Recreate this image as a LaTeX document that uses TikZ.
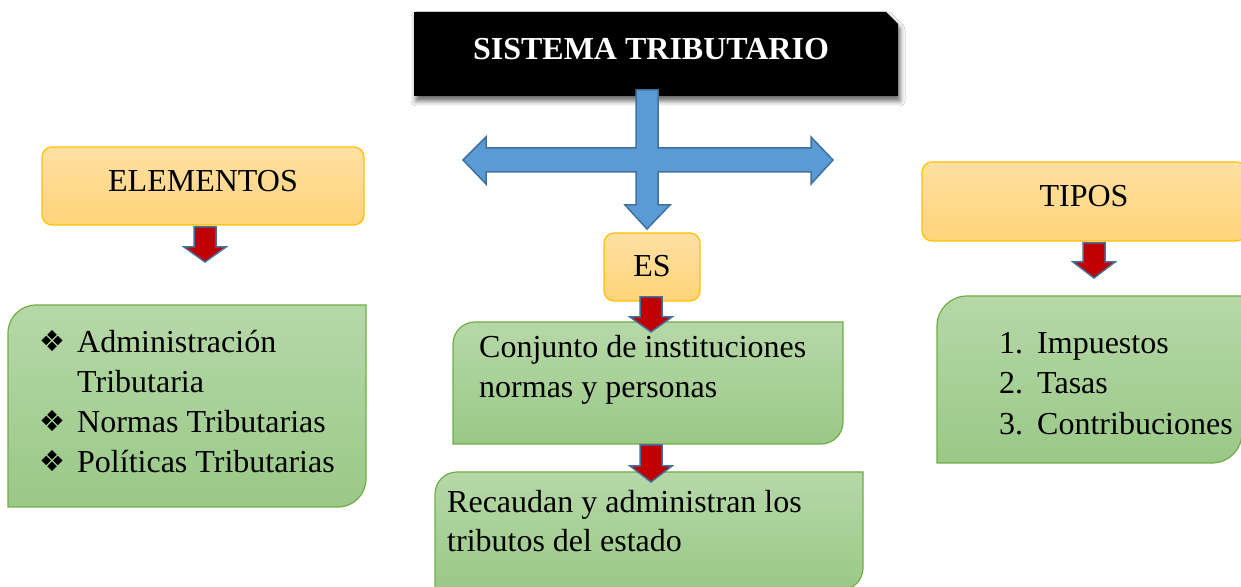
\documentclass[tikz,border=0pt]{standalone}
\usepackage{fontspec}
\setmainfont{Liberation Serif}
\newfontfamily\dejavu{DejaVu Sans}
\usetikzlibrary{shadows.blur}
\definecolor{orfillT}{HTML}{FFE0A3}
\definecolor{orfillB}{HTML}{FFD479}
\definecolor{orline}{HTML}{FFC000}
\definecolor{grT}{HTML}{B6D8A8}
\definecolor{grB}{HTML}{9AC887}
\definecolor{grline}{HTML}{70AD47}
\definecolor{bluefill}{HTML}{5B9BD5}
\definecolor{blueline}{HTML}{41719C}
\definecolor{redfill}{HTML}{C00000}
\tikzset{
  orangebox/.style={draw=orline, line width=1.2pt, top color=orfillT, bottom color=orfillB, rounded corners=10pt},
  greenbox/.style={draw=grline, line width=1.2pt, top color=grT, bottom color=grB},
  txt/.style={font=\fontsize{32}{40}\selectfont, inner sep=0pt, anchor=base west},
  ctxt/.style={font=\fontsize{32}{40}\selectfont, inner sep=0pt, anchor=base},
  bul/.style={font=\dejavu\fontsize{29}{32}\selectfont, inner sep=0pt, anchor=base west},
  bigarrow/.style={draw=blueline, line width=1.5pt, fill=bluefill, line join=miter},
  redarrow/.style={draw=blueline, line width=1.5pt, fill=redfill, line join=miter},
}
\newcommand{\gbox}[5]{% x1 Ytop x2 Ybot r
  \path[greenbox] (#1,#4) -- (#1,#2-#5) arc[start angle=180,end angle=90,radius=#5] -- (#3,#2) -- (#3,#4+#5) arc[start angle=0,end angle=-90,radius=#5] -- cycle;}
\newcommand{\rarrow}[5]{% name x Ytop Ybase Ytip
  \coordinate (#1) at (#2,#3);
  \path[redarrow] (#2-11,#3) -- (#2+11,#3) -- (#2+11,#4) -- (#2+21,#4) -- (#2,#5) -- (#2-21,#4) -- (#2-11,#4) -- cycle;}
\begin{document}
\begin{tikzpicture}[x=1pt,y=1pt]
\useasboundingbox[fill=white] (0,0) rectangle (1241,586);
\begin{scope}
\clip (0,0) rectangle (1241,586);
% title
\path[fill=black, blur shadow={shadow xshift=2pt, shadow yshift=-5pt, shadow blur radius=5pt, shadow opacity=60}]
  (414,490) -- (414,574) -- (886,574) -- (898,562) -- (898,490) -- cycle;
\node[ctxt, text=white, font=\fontsize{32}{38}\selectfont\bfseries] (title) at (651,526) {SISTEMA TRIBUTARIO};
% blue cross arrow
\path[bigarrow] (636,496) -- (658,496) -- (658,438) -- (811,438) -- (811,449) -- (833,426) -- (811,402) -- (811,414)
  -- (658,414) -- (658,381) -- (670,381) -- (647,357) -- (625,381) -- (636,381) -- (636,414) -- (486,414)
  -- (486,402) -- (463,426) -- (486,449) -- (486,438) -- (636,438) -- cycle;
% orange boxes
\path[orangebox] (42,361) rectangle (364,439);
\node[ctxt] (elem) at (203,394) {ELEMENTOS};
\path[orangebox] (604,285) rectangle (700,353);
\node[ctxt] (es) at (652,309) {ES};
\path[orangebox] (922,345) rectangle (1246,424);
\node[ctxt] (tipos) at (1084,379) {TIPOS};
% green boxes
\gbox{8}{281}{366}{79}{28}
\gbox{453}{264}{843}{142}{22}
\gbox{435}{114}{863}{-4}{22}
\gbox{937}{290}{1242}{123}{30}
% red arrows
\rarrow{a1}{205}{359}{339}{324}
\rarrow{a2}{651}{289}{269}{254}
\rarrow{a3}{651}{141}{120}{104}
\rarrow{a4}{1094}{343}{324}{308}
% left list
\node[bul] (b1) at (39,234) {❖};
\node[txt] (l1) at (77,233) {Administración};
\node[txt] (l2) at (77,193) {Tributaria};
\node[bul] (b2) at (39,154) {❖};
\node[txt] (l3) at (77,153) {Normas Tributarias};
\node[bul] (b3) at (39,114) {❖};
\node[txt] (l4) at (77,113) {Políticas Tributarias};
% middle
\node[txt] (c1) at (479,228) {Conjunto de instituciones};
\node[txt] (c2) at (479,188) {normas y personas};
\node[txt] (r1) at (447,74) {Recaudan y administran los};
\node[txt] (r2) at (447,35) {tributos del estado};
% right list
\node[txt] (n1) at (999,232) {1.};
\node[txt] (t1) at (1037,232) {Impuestos};
\node[txt] (n2) at (999,192) {2.};
\node[txt] (t2) at (1037,192) {Tasas};
\node[txt] (n3) at (999,151) {3.};
\node[txt] (t3) at (1037,151) {Contribuciones};
\end{scope}
\end{tikzpicture}
\end{document}
